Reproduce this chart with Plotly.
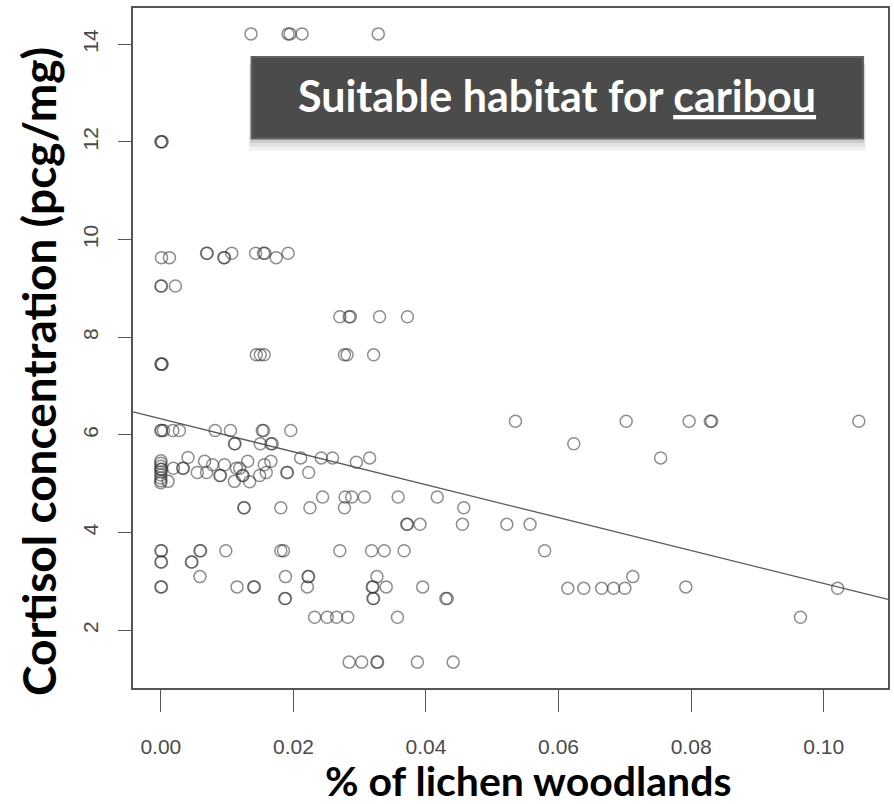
import plotly.graph_objects as go

# ---- data ----
lichen_woodland = [
    # ~14.2
    0.0136, 0.0192, 0.0195, 0.0213, 0.0328,
    # ~12.0
    0.0000, 0.0001, 0.0002,
    # ~9.72
    0.0069, 0.0070, 0.0107, 0.0143, 0.0155, 0.0157, 0.0192,
    # ~9.63
    0.0001, 0.0013, 0.0095, 0.0096, 0.0174,
    # ~9.05
    0.0000, 0.0001, 0.0022,
    # ~8.42
    0.0270, 0.0284, 0.0286, 0.0330, 0.0372,
    # ~7.64
    0.0144, 0.0150, 0.0156, 0.0277, 0.0281, 0.0321,
    # ~7.45
    0.0000, 0.0001, 0.0002,
    # ~6.28
    0.0535, 0.0702, 0.0797, 0.0829, 0.0831, 0.1053,
    # ~6.09
    0.0000, 0.0001, 0.0004, 0.0018, 0.0028, 0.0082, 0.0105, 0.0153, 0.0155, 0.0196,
    # ~5.82
    0.0111, 0.0112, 0.0150, 0.0166, 0.0168, 0.0623,
    # cluster at 0 (5.0 - 5.5)
    0.0000, 0.0000, 0.0000, 0.0000, 0.0001, 0.0000, 0.0000, 0.0000, 0.0000, 0.0000, 0.0011,
    # 5.0 - 5.55 spread
    0.0019, 0.0033, 0.0034, 0.0041, 0.0055, 0.0066, 0.0069, 0.0078, 0.0089, 0.0090,
    0.0096, 0.0111, 0.0114, 0.0119, 0.0123, 0.0124, 0.0131, 0.0134, 0.0149, 0.0156,
    0.0159, 0.0166, 0.0190, 0.0191, 0.0211, 0.0223, 0.0242, 0.0259, 0.0295, 0.0315, 0.0754,
    # ~4.73
    0.0244, 0.0278, 0.0288, 0.0307, 0.0358, 0.0417,
    # ~4.51
    0.0125, 0.0126, 0.0181, 0.0225, 0.0277, 0.0457,
    # ~4.17
    0.0371, 0.0372, 0.0391, 0.0455, 0.0522, 0.0557,
    # ~3.63
    0.0000, 0.0001, 0.0059, 0.0060, 0.0098, 0.0181, 0.0185, 0.0270, 0.0318, 0.0337, 0.0367, 0.0579,
    # ~3.40
    0.0000, 0.0001, 0.0046, 0.0047,
    # ~3.10
    0.0059, 0.0188, 0.0222, 0.0223, 0.0326, 0.0712,
    # ~2.89
    0.0000, 0.0001, 0.0115, 0.0140, 0.0141, 0.0221, 0.0319, 0.0320, 0.0340, 0.0395, 0.0792,
    # ~2.86
    0.0614, 0.0638, 0.0665, 0.0683, 0.0700, 0.1021,
    # ~2.65
    0.0187, 0.0188, 0.0320, 0.0321, 0.0430, 0.0432,
    # ~2.27
    0.0232, 0.0251, 0.0265, 0.0282, 0.0357, 0.0965,
    # ~1.35
    0.0284, 0.0303, 0.0326, 0.0327, 0.0387, 0.0441,
]

cortisol = [
    14.21, 14.21, 14.21, 14.21, 14.21,
    12.0, 12.0, 12.0,
    9.72, 9.72, 9.72, 9.72, 9.72, 9.72, 9.72,
    9.63, 9.63, 9.63, 9.63, 9.63,
    9.05, 9.05, 9.05,
    8.42, 8.42, 8.42, 8.42, 8.42,
    7.64, 7.64, 7.64, 7.64, 7.64, 7.64,
    7.45, 7.45, 7.45,
    6.28, 6.28, 6.28, 6.28, 6.28, 6.28,
    6.09, 6.09, 6.09, 6.09, 6.09, 6.09, 6.09, 6.09, 6.09, 6.09,
    5.82, 5.82, 5.82, 5.82, 5.82, 5.82,
    5.47, 5.42, 5.36, 5.30, 5.30, 5.24, 5.18, 5.12, 5.06, 5.02, 5.05,
    5.32, 5.32, 5.32, 5.54, 5.23, 5.46, 5.23, 5.39, 5.17, 5.17,
    5.39, 5.05, 5.32, 5.32, 5.17, 5.17, 5.46, 5.04, 5.17, 5.39,
    5.23, 5.46, 5.23, 5.23, 5.53, 5.23, 5.53, 5.53, 5.44, 5.53, 5.53,
    4.73, 4.73, 4.73, 4.73, 4.73, 4.73,
    4.51, 4.51, 4.51, 4.51, 4.51, 4.51,
    4.17, 4.17, 4.17, 4.17, 4.17, 4.17,
    3.63, 3.63, 3.63, 3.63, 3.63, 3.63, 3.63, 3.63, 3.63, 3.63, 3.63, 3.63,
    3.40, 3.40, 3.40, 3.40,
    3.10, 3.10, 3.10, 3.10, 3.10, 3.10,
    2.89, 2.89, 2.89, 2.89, 2.89, 2.89, 2.89, 2.89, 2.89, 2.89, 2.89,
    2.86, 2.86, 2.86, 2.86, 2.86, 2.86,
    2.65, 2.65, 2.65, 2.65, 2.65, 2.65,
    2.27, 2.27, 2.27, 2.27, 2.27, 2.27,
    1.35, 1.35, 1.35, 1.35, 1.35, 1.35,
]

fit_intercept = 6.33
fit_slope = -33.7

x_ticks = [0.00, 0.02, 0.04, 0.06, 0.08, 0.10]
x_tick_labels = ["0.00", "0.02", "0.04", "0.06", "0.08", "0.10"]
y_ticks = [2, 4, 6, 8, 10, 12, 14]
y_tick_labels = ["2", "4", "6", "8", "10", "12", "14"]

x_range = [-0.0042, 0.1097]
y_range = [0.82, 14.74]

title_x = "% of lichen woodlands"
title_y = "Cortisol concentration (pcg/mg)"
box_text = "Suitable habitat for <u>caribou</u>"

# ---- figure ----
fig = go.Figure()

fig.add_trace(go.Scatter(
    x=lichen_woodland, y=cortisol, mode="markers",
    marker=dict(symbol="circle-open", size=12,
                color="rgba(50,50,50,0.55)", line=dict(width=1.5)),
    hoverinfo="skip", showlegend=False,
))

fig.add_trace(go.Scatter(
    x=x_range, y=[fit_intercept + fit_slope * v for v in x_range],
    mode="lines", line=dict(color="rgba(70,70,70,0.9)", width=1.3),
    hoverinfo="skip", showlegend=False,
))

tick_font = dict(family="Liberation Sans, Arial, sans-serif",
                 size=21, color="#4a4a4a")

fig.update_layout(
    width=894, height=804,
    margin=dict(l=133, r=4, t=8, b=116),
    paper_bgcolor="white", plot_bgcolor="white",
    xaxis=dict(range=x_range, tickvals=x_ticks, ticktext=x_tick_labels,
               showgrid=False, zeroline=False, showline=True, mirror=True,
               linecolor="#555", linewidth=1.6, ticks="outside", ticklen=22,
               tickwidth=1.4, tickcolor="#555", tickfont=tick_font,
               ticklabelstandoff=17),
    yaxis=dict(range=y_range, tickvals=y_ticks, ticktext=y_tick_labels,
               showgrid=False, zeroline=False, showline=True, mirror=True,
               linecolor="#555", linewidth=1.6, ticks="outside", ticklen=13,
               tickwidth=1.4, tickcolor="#555", tickfont=tick_font,
               tickangle=-90, ticklabelstandoff=12),
)

fig.add_annotation(text="<b>" + title_x + "</b>", xref="paper", yref="paper",
                   x=0.523, y=-0.136, xanchor="center", yanchor="middle",
                   showarrow=False,
                   font=dict(family="Lato, Noto Sans, sans-serif", size=41, color="black"))
fig.add_annotation(text="<b>" + title_y + "</b>", xref="paper", xanchor="center",
                   yref="paper", x=-0.126, y=0.466, yanchor="middle",
                   textangle=-90, showarrow=False,
                   font=dict(family="Lato, Noto Sans, sans-serif", size=46, color="black"))

# label box with soft shadow
bx0, bx1, by0, by1 = 0.157, 0.967, 0.808, 0.928
for i, a in enumerate([0.05, 0.07, 0.10]):
    d = 0.004 * (3 - i)
    fig.add_shape(type="rect", xref="paper", yref="paper",
                  x0=bx0 - d * 0.3, x1=bx1 + d * 0.3, y0=by0 - d * 1.5, y1=by1 - 0.01,
                  fillcolor=f"rgba(0,0,0,{a})", line=dict(width=0), layer="above")
fig.add_shape(type="rect", xref="paper", yref="paper",
              x0=bx0, x1=bx1, y0=by0, y1=by1,
              fillcolor="#4b4b4b", line=dict(color="#626262", width=2), layer="above")
fig.add_annotation(text="<b>" + box_text + "</b>", xref="paper", yref="paper",
                   x=(bx0 + bx1) / 2, y=(by0 + by1) / 2 + 0.003,
                   xanchor="center", yanchor="middle", showarrow=False,
                   font=dict(family="Lato, Noto Sans, sans-serif", size=43, color="white"))

fig.write_html("out.html", config={"displayModeBar": False},
               post_script="document.body.style.margin='0';")
